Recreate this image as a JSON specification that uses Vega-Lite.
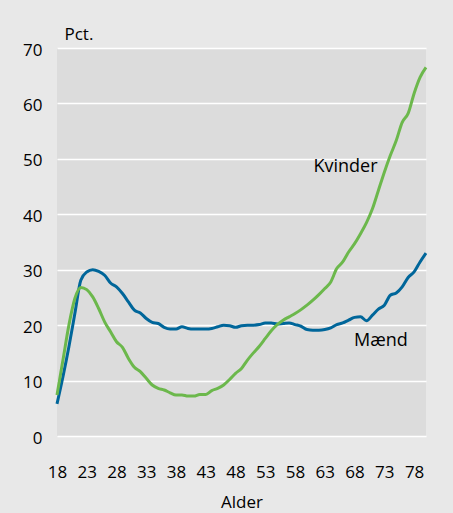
{
  "$schema": "https://vega.github.io/schema/vega-lite/v6.json",
  "autosize": {"type": "none"},
  "width": 369,
  "height": 388,
  "padding": {"left": 57, "top": 48, "right": 27, "bottom": 77},
  "background": "#e8e8e8",
  "config": {
    "view": {"fill": "#dcdcdc", "stroke": null},
    "font": "Open Sans"
  },
  "datasets": {
    "main": [
      {"alder": 18, "Mænd": 5.8, "Kvinder": 7.4},
      {"alder": 19, "Mænd": 10.7, "Kvinder": 13.7},
      {"alder": 20, "Mænd": 16.1, "Kvinder": 20.0},
      {"alder": 21, "Mænd": 22.1, "Kvinder": 24.8},
      {"alder": 22, "Mænd": 28.1, "Kvinder": 26.8},
      {"alder": 23, "Mænd": 29.6, "Kvinder": 26.4},
      {"alder": 24, "Mænd": 30.0, "Kvinder": 25.1},
      {"alder": 25, "Mænd": 29.7, "Kvinder": 23.0},
      {"alder": 26, "Mænd": 29.0, "Kvinder": 20.6},
      {"alder": 27, "Mænd": 27.6, "Kvinder": 18.8},
      {"alder": 28, "Mænd": 26.9, "Kvinder": 17.0},
      {"alder": 29, "Mænd": 25.7, "Kvinder": 16.0},
      {"alder": 30, "Mænd": 24.2, "Kvinder": 14.0},
      {"alder": 31, "Mænd": 22.7, "Kvinder": 12.4},
      {"alder": 32, "Mænd": 22.2, "Kvinder": 11.6},
      {"alder": 33, "Mænd": 21.2, "Kvinder": 10.4},
      {"alder": 34, "Mænd": 20.5, "Kvinder": 9.2},
      {"alder": 35, "Mænd": 20.3, "Kvinder": 8.6},
      {"alder": 36, "Mænd": 19.6, "Kvinder": 8.3},
      {"alder": 37, "Mænd": 19.3, "Kvinder": 7.8},
      {"alder": 38, "Mænd": 19.3, "Kvinder": 7.4},
      {"alder": 39, "Mænd": 19.7, "Kvinder": 7.4},
      {"alder": 40, "Mænd": 19.4, "Kvinder": 7.2},
      {"alder": 41, "Mænd": 19.3, "Kvinder": 7.2},
      {"alder": 42, "Mænd": 19.3, "Kvinder": 7.5},
      {"alder": 43, "Mænd": 19.3, "Kvinder": 7.5},
      {"alder": 44, "Mænd": 19.4, "Kvinder": 8.2},
      {"alder": 45, "Mænd": 19.7, "Kvinder": 8.6},
      {"alder": 46, "Mænd": 20.0, "Kvinder": 9.2},
      {"alder": 47, "Mænd": 19.9, "Kvinder": 10.2},
      {"alder": 48, "Mænd": 19.6, "Kvinder": 11.3},
      {"alder": 49, "Mænd": 19.9, "Kvinder": 12.2},
      {"alder": 50, "Mænd": 20.0, "Kvinder": 13.7},
      {"alder": 51, "Mænd": 20.0, "Kvinder": 15.0},
      {"alder": 52, "Mænd": 20.1, "Kvinder": 16.2},
      {"alder": 53, "Mænd": 20.4, "Kvinder": 17.6},
      {"alder": 54, "Mænd": 20.4, "Kvinder": 19.0},
      {"alder": 55, "Mænd": 20.2, "Kvinder": 20.1},
      {"alder": 56, "Mænd": 20.3, "Kvinder": 20.9},
      {"alder": 57, "Mænd": 20.4, "Kvinder": 21.5},
      {"alder": 58, "Mænd": 20.1, "Kvinder": 22.1},
      {"alder": 59, "Mænd": 19.8, "Kvinder": 22.8},
      {"alder": 60, "Mænd": 19.2, "Kvinder": 23.6},
      {"alder": 61, "Mænd": 19.1, "Kvinder": 24.5},
      {"alder": 62, "Mænd": 19.1, "Kvinder": 25.5},
      {"alder": 63, "Mænd": 19.2, "Kvinder": 26.6},
      {"alder": 64, "Mænd": 19.5, "Kvinder": 27.8},
      {"alder": 65, "Mænd": 20.1, "Kvinder": 30.2},
      {"alder": 66, "Mænd": 20.4, "Kvinder": 31.4},
      {"alder": 67, "Mænd": 20.9, "Kvinder": 33.2},
      {"alder": 68, "Mænd": 21.4, "Kvinder": 34.7},
      {"alder": 69, "Mænd": 21.5, "Kvinder": 36.5},
      {"alder": 70, "Mænd": 20.8, "Kvinder": 38.5},
      {"alder": 71, "Mænd": 21.8, "Kvinder": 41.0},
      {"alder": 72, "Mænd": 22.9, "Kvinder": 44.3},
      {"alder": 73, "Mænd": 23.6, "Kvinder": 47.6},
      {"alder": 74, "Mænd": 25.4, "Kvinder": 50.6},
      {"alder": 75, "Mænd": 25.8, "Kvinder": 53.3},
      {"alder": 76, "Mænd": 26.9, "Kvinder": 56.6},
      {"alder": 77, "Mænd": 28.6, "Kvinder": 58.2},
      {"alder": 78, "Mænd": 29.6, "Kvinder": 61.8},
      {"alder": 79, "Mænd": 31.4, "Kvinder": 64.7},
      {"alder": 80, "Mænd": 33.0, "Kvinder": 66.5}
    ],
    "labels": [
      {"alder": 61.1, "pct": 48.5, "tekst": "Kvinder", "serie": "Kvinder"},
      {"alder": 67.9, "pct": 17.1, "tekst": "Mænd", "serie": "Mænd"}
    ]
  },
  "data": {"name": "main"},
  "encoding": {
    "x": {
      "field": "alder",
      "type": "quantitative",
      "scale": {"domain": [18, 80], "nice": false, "zero": false},
      "axis": {
        "title": "Alder",
        "values": [18, 23, 28, 33, 38, 43, 48, 53, 58, 63, 68, 73, 78],
        "grid": false,
        "domain": false,
        "ticks": false,
        "labelFontSize": 17,
        "labelColor": "#000000",
        "labelPadding": 28,
        "labelFlush": false,
        "titleFontSize": 17,
        "titleFontWeight": "normal",
        "titleColor": "#000000",
        "titleBaseline": "alphabetic",
        "titleY": 71
      }
    },
    "y": {
      "field": "pct",
      "type": "quantitative",
      "scale": {"domain": [0, 70], "nice": false},
      "axis": {
        "title": "Pct.",
        "values": [0, 10, 20, 30, 40, 50, 60, 70],
        "grid": true,
        "gridColor": "#ffffff",
        "gridWidth": 1.5,
        "gridOpacity": 1,
        "domain": false,
        "ticks": false,
        "labelFontSize": 17,
        "labelColor": "#000000",
        "labelPadding": 15,
        "labelOffset": 2,
        "titleFontSize": 17,
        "titleFontWeight": "normal",
        "titleColor": "#000000",
        "titleAngle": 0,
        "titleAlign": "left",
        "titleBaseline": "alphabetic",
        "titleX": 7,
        "titleY": -9
      }
    }
  },
  "layer": [
    {
      "transform": [{"fold": ["Mænd", "Kvinder"], "as": ["serie", "pct"]}],
      "mark": {"type": "line", "strokeWidth": 3, "interpolate": "monotone"},
      "encoding": {
        "color": {
          "field": "serie",
          "type": "nominal",
          "scale": {"domain": ["Mænd", "Kvinder"], "range": ["#00669a", "#6cb84c"]},
          "legend": null
        }
      }
    },
    {
      "data": {"name": "labels"},
      "mark": {"type": "text", "align": "left", "baseline": "middle", "fontSize": 18, "color": "#000000"},
      "encoding": {
        "text": {"field": "tekst", "type": "nominal"}
      }
    }
  ]
}
